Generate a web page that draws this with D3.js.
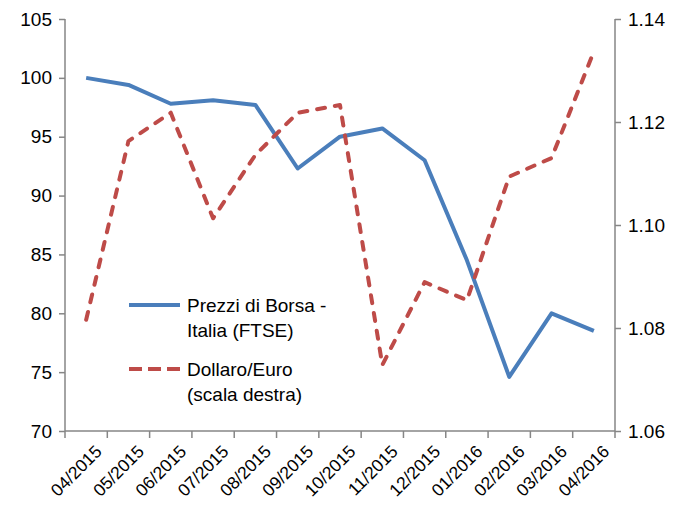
<!DOCTYPE html>
<html><head><meta charset="utf-8">
<script src="https://cdn.jsdelivr.net/npm/d3@7"></script>
<style>body{margin:0;background:#fff}svg{display:block}text{font-family:"Liberation Sans",Arial,sans-serif;fill:#000}</style>
</head><body><svg id="c" width="676" height="506"></svg>
<script>
const categories = ["04/2015","05/2015","06/2015","07/2015","08/2015","09/2015","10/2015","11/2015","12/2015","01/2016","02/2016","03/2016","04/2016"];
const ftse = [100.0, 99.4, 97.8, 98.1, 97.7, 92.3, 95.0, 95.7, 93.0, 84.5, 74.6, 80.0, 78.5];
const usdEur = [1.0816, 1.1163, 1.1218, 1.1013, 1.1136, 1.1218, 1.1233, 1.0728, 1.0889, 1.0854, 1.1094, 1.1130, 1.1337];
const leftTicks = [70, 75, 80, 85, 90, 95, 100, 105];
const rightTicks = [1.06, 1.08, 1.10, 1.12, 1.14];
const seriesNames = [["Prezzi di Borsa -", "Italia (FTSE)"], ["Dollaro/Euro", "(scala destra)"]];

const svg = d3.select("#c");
const L = 65, R = 615, T = 19, B = 431;
const axisColor = "#868686";
const x = d3.scaleBand().domain(categories).range([L, R]);
const yL = d3.scaleLinear().domain([70, 105]).range([B, T]);
const yR = d3.scaleLinear().domain([1.06, 1.14]).range([B, T]);

const gL = svg.append("g").attr("transform", `translate(${L},0)`)
  .call(d3.axisLeft(yL).tickValues(leftTicks).tickSize(6).tickPadding(7).tickFormat(d3.format("d")));
const gR = svg.append("g").attr("transform", `translate(${R},0)`)
  .call(d3.axisRight(yR).tickValues(rightTicks).tickSize(6).tickPadding(7).tickFormat(d3.format(".2f")));
[gL, gR].forEach(g => {
  g.select(".domain").attr("stroke", axisColor).attr("stroke-width", 1.5).attr("d", `M0,${T}V${B}`);
  g.selectAll(".tick line").attr("stroke", axisColor).attr("stroke-width", 1.5);
  g.selectAll("text").style("font-size", "19px").attr("fill", "#000");
});
const gX = svg.append("g").attr("transform", `translate(0,${B})`);
gX.append("line").attr("x1", L).attr("x2", R).attr("stroke", axisColor).attr("stroke-width", 1.5);
const bounds = categories.map(c => x(c)).concat([R]);
gX.selectAll("line.tk").data(bounds).join("line").attr("class", "tk")
  .attr("x1", d => d).attr("x2", d => d).attr("y1", 0).attr("y2", 7)
  .attr("stroke", axisColor).attr("stroke-width", 1.5);
gX.selectAll("text").data(categories).join("text")
  .attr("transform", d => `translate(${x(d) + x.bandwidth() / 2 + 8},${13}) rotate(-45)`)
  .attr("text-anchor", "end").attr("dy", "0.7em")
  .style("font-size", "17.5px").text(d => d);

const cx = (d, i) => x(categories[i]) + x.bandwidth() / 2;
svg.append("path").datum(ftse)
  .attr("d", d3.line().x(cx).y(d => yL(d)))
  .attr("fill", "none").attr("stroke", "#4A7EBB").attr("stroke-width", 4).attr("stroke-linejoin", "round");
svg.append("path").datum(usdEur)
  .attr("d", d3.line().x(cx).y(d => yR(d)))
  .attr("fill", "none").attr("stroke", "#BE4B48").attr("stroke-width", 4)
  .attr("stroke-dasharray", "8,10").attr("stroke-linecap", "round").attr("stroke-linejoin", "round");

const leg = svg.append("g");
const legItems = [{c: "#4A7EBB", dash: null, y: 305}, {c: "#BE4B48", dash: "13,6", y: 369}];
legItems.forEach((it, i) => {
  leg.append("line").attr("x1", 129).attr("x2", 180).attr("y1", it.y).attr("y2", it.y)
    .attr("stroke", it.c).attr("stroke-width", 4).attr("stroke-dasharray", it.dash);
  seriesNames[i].forEach((t, j) => {
    leg.append("text").attr("x", 187).attr("y", it.y + 7 + j * 25).style("font-size", "19px").text(t);
  });
});
</script></body></html>
